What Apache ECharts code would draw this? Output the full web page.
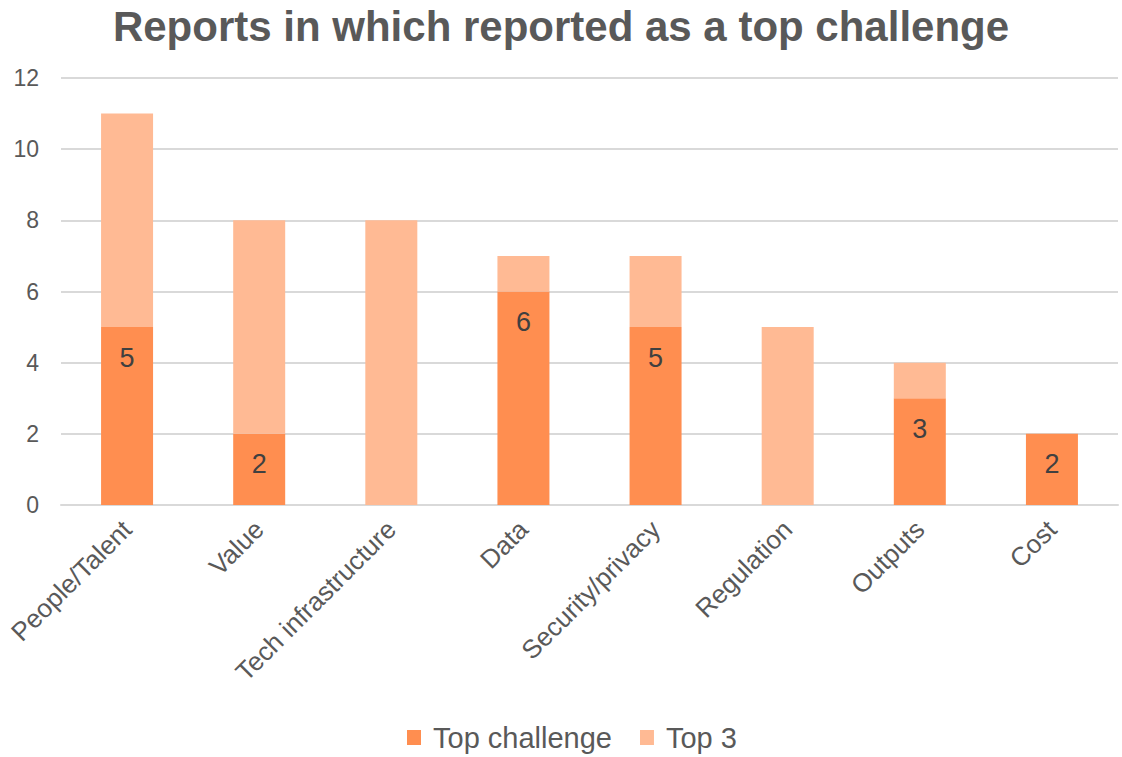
<!DOCTYPE html>
<html>
<head>
<meta charset="utf-8">
<script src="https://cdn.jsdelivr.net/npm/echarts@6/dist/echarts.min.js"></script>
<style>
  html, body { margin: 0; padding: 0; background: #fff; }
  #chart { width: 1122px; height: 757px; }
</style>
</head>
<body>
<div id="chart"></div>
<script>
var categories = ["People/Talent", "Value", "Tech infrastructure", "Data", "Security/privacy", "Regulation", "Outputs", "Cost"];
var topChallenge = [5, 2, 0, 6, 5, 0, 3, 2];
var top3 = [6, 6, 8, 1, 2, 5, 1, 0];
var yTicks = [0, 2, 4, 6, 8, 10, 12];

var chart = echarts.init(document.getElementById("chart"), null, { renderer: "svg" });

var font = "Liberation Sans, Arial, sans-serif";

var option = {
  animation: false,
  title: {
    text: "Reports in which reported as a top challenge",
    left: "center",
    top: 0,
    textStyle: { fontFamily: font, fontSize: 42, fontWeight: "bold", color: "#595959" }
  },
  legend: {
    bottom: 0,
    left: 402,
    itemWidth: 14,
    itemHeight: 15,
    itemGap: 28,
    icon: "rect",
    textStyle: { fontFamily: font, fontSize: 29, color: "#595959", padding: [0, 0, 0, 7] },
    data: ["Top challenge", "Top 3"]
  },
  grid: { left: 61, right: 4, top: 78, bottom: 252, containLabel: false },
  xAxis: {
    type: "category",
    data: categories,
    axisLine: { show: true, lineStyle: { color: "#d9d9d9", width: 2 } },
    axisTick: { show: false },
    axisLabel: { rotate: 45, fontFamily: font, fontSize: 26, color: "#595959", margin: 20, interval: 0 }
  },
  yAxis: {
    type: "value",
    min: yTicks[0],
    max: yTicks[yTicks.length - 1],
    interval: 2,
    axisLine: { show: false },
    axisTick: { show: false },
    splitLine: { lineStyle: { color: "#d9d9d9", width: 2 } },
    axisLabel: { fontFamily: font, fontSize: 23, color: "#595959", margin: 22 }
  },
  series: [
    {
      name: "Top challenge",
      type: "bar",
      stack: "total",
      barWidth: 52,
      data: topChallenge,
      itemStyle: { color: "#ff8e50" },
      label: {
        show: true,
        position: "insideTop",
        distance: 17,
        fontFamily: font,
        fontSize: 27,
        color: "#404040",
        formatter: function (p) { return p.value > 0 ? p.value : ""; }
      }
    },
    {
      name: "Top 3",
      type: "bar",
      stack: "total",
      barWidth: 52,
      data: top3,
      itemStyle: { color: "#ffba94" }
    }
  ]
};

chart.setOption(option);
</script>
</body>
</html>
